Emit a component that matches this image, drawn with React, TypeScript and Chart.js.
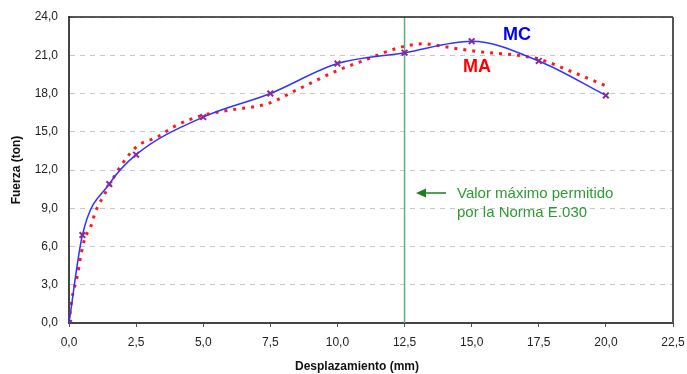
import React, { useEffect, useRef } from "react";
import { Chart, registerables } from "chart.js";

Chart.register(...registerables);

const mcX = [0, 0.5, 1.5, 2.5, 5, 7.5, 10, 12.5, 15, 17.5, 20];
const mcY = [0, 6.9, 10.9, 13.2, 16.15, 18.0, 20.35, 21.2, 22.1, 20.55, 17.85];

const maX = [0, 0.1, 0.3, 0.45, 0.6, 0.8, 1.0, 1.3, 1.8, 2.5, 3.3, 4.0, 5.0, 6.0, 7.4, 8.5, 10.0, 11.0, 12.3, 13.2, 14.2, 15.2, 16.7, 17.5, 18.8, 20.0];
const maY = [0, 1.8, 3.6, 5.4, 6.7, 7.5, 8.8, 10.0, 11.9, 13.8, 14.6, 15.5, 16.3, 16.7, 17.2, 18.3, 19.8, 20.6, 21.6, 21.9, 21.6, 21.3, 21.0, 20.7, 19.65, 18.6];

const limitX = 12.5;
const yMin = 0;
const yMax = 24;
const xMin = 0;
const xMax = 22.5;

const fmt = (v: number) => Number(v).toFixed(1).replace(".", ",");

const overlay = {
  id: "overlay",
  afterDraw(chart: any) {
    const ctx = chart.ctx;
    const a = chart.chartArea;
    ctx.save();
    ctx.strokeStyle = "#222";
    ctx.lineWidth = 1.5;
    ctx.beginPath();
    ctx.moveTo(a.left, a.top);
    ctx.lineTo(a.right, a.top);
    ctx.stroke();
    ctx.strokeStyle = "#555";
    ctx.lineWidth = 2;
    ctx.beginPath();
    ctx.moveTo(a.right, a.top);
    ctx.lineTo(a.right, a.bottom);
    ctx.stroke();

    ctx.fillStyle = "#111";
    ctx.font = "bold 12px 'Liberation Sans', Arial, sans-serif";
    ctx.textAlign = "center";
    ctx.textBaseline = "middle";
    ctx.fillText("Desplazamiento (mm)", 357, 367);
    ctx.save();
    ctx.translate(17, 170);
    ctx.rotate(-Math.PI / 2);
    ctx.fillText("Fuerza (ton)", 0, 0);
    ctx.restore();

    ctx.font = "bold 18px 'Liberation Sans', Arial, sans-serif";
    ctx.textAlign = "left";
    ctx.fillStyle = "#0000ff";
    ctx.fillText("MC", 503, 35);
    ctx.fillStyle = "#ff0000";
    ctx.fillText("MA", 463, 67);

    ctx.strokeStyle = "#1d7f1d";
    ctx.fillStyle = "#1d7f1d";
    ctx.lineWidth = 1.5;
    ctx.beginPath();
    ctx.moveTo(446, 193);
    ctx.lineTo(422, 193);
    ctx.stroke();
    ctx.beginPath();
    ctx.moveTo(416, 193);
    ctx.lineTo(426, 188.5);
    ctx.lineTo(426, 197.5);
    ctx.closePath();
    ctx.fill();

    ctx.fillStyle = "#2f9a33";
    ctx.font = "15px 'Liberation Sans', Arial, sans-serif";
    ctx.fillText("Valor máximo permitido", 457, 194);
    ctx.fillText("por la Norma E.030", 457, 213);
    ctx.restore();
  },
};

export default function App() {
  const ref = useRef<HTMLCanvasElement>(null);
  useEffect(() => {
    document.body.style.margin = "0";
    const chart = new Chart(ref.current as HTMLCanvasElement, {
      type: "line",
      data: {
        datasets: [
          {
            label: "Norma",
            data: [
              { x: limitX, y: yMin },
              { x: limitX, y: yMax },
            ],
            borderColor: "#5fae7f",
            borderWidth: 1.5,
            pointRadius: 0,
            order: 3,
          },
          {
            label: "MA",
            data: maX.map((x, i) => ({ x, y: maY[i] })),
            borderColor: "#ff1a1a",
            borderWidth: 3,
            borderDash: [3, 6],
            pointRadius: 0,
            tension: 0.4,
            cubicInterpolationMode: "monotone",
            order: 2,
          },
          {
            label: "MC",
            data: mcX.map((x, i) => ({ x, y: mcY[i] })),
            borderColor: "#3333ff",
            borderWidth: 1.5,
            pointStyle: "crossRot",
            pointRadius: 4,
            pointBorderWidth: 2,
            pointBorderColor: "#8a2a9a",
            pointBackgroundColor: "#8a2a9a",
            tension: 0.35,
            cubicInterpolationMode: "monotone",
            order: 1,
          },
        ],
      },
      options: {
        animation: false,
        responsive: false,
        layout: { padding: { top: 17, right: 14, left: 0, bottom: 0 } },
        plugins: {
          legend: { display: false },
          tooltip: { enabled: false },
        },
        scales: {
          x: {
            type: "linear",
            min: xMin,
            max: xMax,
            ticks: {
              stepSize: 2.5,
              callback: (v: any) => fmt(v),
              color: "#222",
              font: { family: "'Liberation Sans', Arial, sans-serif", size: 12 },
              padding: 8,
              maxRotation: 0,
            },
            grid: {
              drawOnChartArea: false,
              drawTicks: true,
              tickLength: 4,
              color: "#555",
            },
            border: { color: "#444", width: 2 },
            afterFit: (s: any) => {
              s.height = 51;
              s.paddingLeft = 0;
              s.paddingRight = 0;
            },
          },
          y: {
            type: "linear",
            min: yMin,
            max: yMax,
            ticks: {
              stepSize: 3,
              callback: (v: any) => fmt(v),
              color: "#222",
              font: { family: "'Liberation Sans', Arial, sans-serif", size: 12 },
              padding: 11,
            },
            grid: {
              drawTicks: false,
              color: "#c8c8c8",
              lineWidth: 1,
            },
            border: { color: "#444", width: 2, dash: [5, 5] },
            afterFit: (s: any) => {
              s.width = 69;
              s.paddingTop = 0;
              s.paddingBottom = 0;
            },
          },
        },
      },
      plugins: [overlay],
    } as any);
    return () => chart.destroy();
  }, []);
  return <canvas ref={ref} width={687} height={374} style={{ display: "block" }} />;
}
